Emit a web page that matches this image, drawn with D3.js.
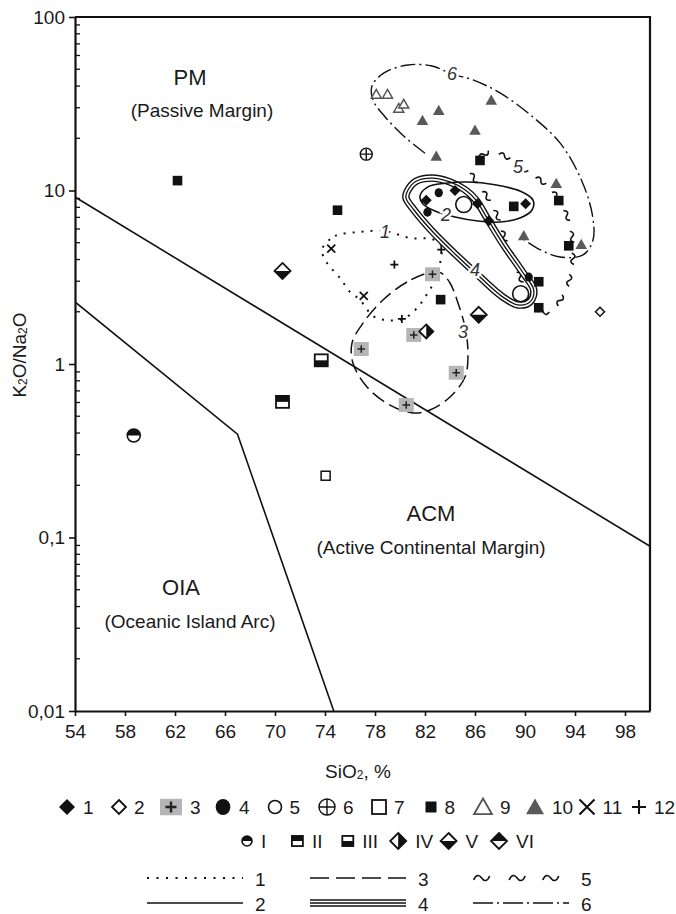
<!DOCTYPE html>
<html>
<head>
<meta charset="utf-8">
<script src="https://cdn.jsdelivr.net/npm/d3@7"></script>
<style>
  body { margin: 0; background: #fff; }
  svg text { font-family: "Liberation Sans", Arial, sans-serif; fill: #1a1a1a; }
</style>
</head>
<body>
<div id="chart"></div>
<script>
// ---- data: SiO2 (%) , K2O/Na2O ----
const xTicks = [54, 58, 62, 66, 70, 74, 78, 82, 86, 90, 94, 98];
const yTicks = [0.01, 0.1, 1, 10, 100];
const yTickLabels = ["0,01", "0,1", "1", "10", "100"];

// field boundaries
const lineAcm = [[54, 9.17], [100, 0.089]];
const lineOia = [[54, 2.28], [67.0, 0.394], [74.7, 0.01]];

// samples by legend symbol
const sym1 = [[84.4, 10.0], [82.1, 8.8], [86.2, 8.4], [90.05, 8.4], [87.1, 6.7]];
const sym2 = [[96.0, 2.0]];
const sym3 = [[82.6, 3.29], [81.1, 1.47], [76.9, 1.22], [84.5, 0.89], [80.5, 0.58]];
const sym4 = [[83.1, 9.7], [82.2, 7.5], [90.3, 3.17]];
const sym5 = [[85.1, 8.3], [89.65, 2.54]];
const sym6 = [[77.3, 16.2]];
const sym7 = [[74.05, 0.227]];
const sym8 = [[62.2, 11.4], [75.0, 7.7], [86.4, 14.9], [89.1, 8.1], [92.7, 8.75], [93.5, 4.8], [83.25, 2.35], [91.1, 2.98], [91.1, 2.11]];
const sym9 = [[78.1, 35.9], [79.0, 35.9], [79.9, 29.8], [80.3, 31.5]];
const sym10 = [[83.1, 29.0], [81.8, 25.4], [87.3, 33.2], [86.0, 22.3], [82.9, 15.8], [92.5, 11.0], [89.9, 5.5], [94.5, 4.9]];
const sym11 = [[74.5, 4.62], [77.1, 2.47]];
const sym12 = [[83.3, 4.56], [79.55, 3.74], [80.15, 1.82]];
const symI = [[58.7, 0.387]];
const symII = [[70.6, 0.605]];
const symIII = [[73.7, 1.05]];
const symIV = [[82.1, 1.54]];
const symV = [[70.6, 3.44], [86.3, 1.92]];

// outlined fields
const field1 = [[73.84, 4.72], [74.8, 5.47], [76.8, 5.77], [78.8, 5.84], [80.8, 5.32], [82.56, 5.25], [83.28, 4.85], [83.28, 4.08], [82.8, 3.05], [82.16, 2.53], [81.36, 2.10], [80.24, 1.82], [78.96, 1.79], [77.84, 1.89], [76.8, 2.34], [76.0, 2.60], [75.2, 3.13], [74.16, 3.82], [73.76, 4.42]];
const field2 = [[81.6, 9.30], [82.24, 10.5], [83.6, 11.0], [85.44, 11.2], [87.6, 10.8], [89.6, 9.93], [90.64, 8.81], [90.56, 7.72], [89.6, 6.94], [88.0, 6.58], [86.24, 6.67], [84.4, 7.04], [82.8, 7.62], [81.84, 8.36]];
const field3 = [[82.56, 3.39], [80.56, 2.97], [78.64, 2.34], [77.04, 1.72], [76.16, 1.32], [76.24, 1.01], [77.36, 0.737], [79.2, 0.580], [81.04, 0.522], [82.4, 0.543], [84.0, 0.645], [85.2, 0.842], [85.44, 1.16], [85.2, 1.63], [84.64, 2.25], [84.0, 2.93], [83.28, 3.35]];
const field4 = [[80.56, 9.80], [81.28, 11.3], [82.56, 11.8], [84.0, 11.2], [85.2, 10.1], [86.08, 8.81], [86.96, 6.94], [88.3, 4.85], [89.8, 3.39], [90.7, 2.67], [90.4, 2.28], [89.44, 2.19], [88.24, 2.43], [86.4, 3.17], [84.4, 4.31], [82.56, 5.84], [81.12, 7.72], [80.48, 9.05]];
const field5 = [[85.76, 12.8], [86.32, 15.4], [87.44, 16.7], [88.64, 15.4], [89.76, 13.5], [91.2, 11.5], [92.64, 9.05], [93.52, 6.58], [93.84, 4.66], [93.68, 3.35], [93.04, 2.47], [91.84, 1.99], [90.64, 2.16], [89.76, 2.97], [89.04, 4.08], [88.4, 5.32], [87.68, 7.42], [86.72, 9.80], [86.0, 11.5]];
const field6 = [[82.0, 16.4], [80.4, 20.3], [78.88, 26.2], [77.84, 33.2], [77.76, 40.0], [78.72, 47.6], [80.64, 52.9], [82.56, 52.2], [84.16, 46.9], [85.84, 43.4], [88.0, 36.5], [90.64, 26.5], [92.8, 18.8], [94.4, 12.0], [95.36, 7.42], [95.44, 5.18], [94.64, 4.25], [92.8, 4.14], [90.96, 4.66], [89.76, 5.32]];

const fieldNames = ["1", "2", "3", "4", "5", "6"];
const fieldLabelAt = [[78.8, 5.77], [83.68, 7.23], [85.04, 1.53], [86.0, 3.48], [89.44, 13.7], [84.16, 46.9]];

const regionNames = ["PM", "ACM", "OIA"];
const regionFull = ["(Passive Margin)", "(Active Continental Margin)", "(Oceanic Island Arc)"];
const regionAt = [[63.2, 45.1], [82.48, 0.1366], [62.48, 0.0512]];
const regionFullAt = [[64.16, 29.1], [82.48, 0.087], [63.2, 0.0326]];

const symbolKeys = ["1", "2", "3", "4", "5", "6", "7", "8", "9", "10", "11", "12"];
const sourceKeys = ["I", "II", "III", "IV", "V", "VI"];

// ---- sizes ----
const plotSize = { "1": 5.5, "2": 4.5, "3": 7.5, "4": 4.5, "5": 8, "6": 6, "7": 4.5, "8": 4.8, "9": 5, "10": 5.8, "11": 4, "12": 4, "I": 6.5, "II": 6.5, "III": 6.5, "IV": 7, "V": 8, "VI": 8 };
const legendSize = { "1": 8, "2": 7, "3": 11, "4": 8, "5": 6.5, "6": 8, "7": 7, "8": 5.5, "9": 9, "10": 9, "11": 7.5, "12": 7, "I": 5, "II": 5.5, "III": 5.5, "IV": 8, "V": 8, "VI": 8 };

const samples = [
  ["1", sym1], ["2", sym2], ["3", sym3], ["4", sym4], ["5", sym5], ["6", sym6],
  ["7", sym7], ["8", sym8], ["9", sym9], ["10", sym10], ["11", sym11], ["12", sym12],
  ["I", symI], ["II", symII], ["III", symIII], ["IV", symIV], ["V", symV]
];

const W = 676, H = 914;
const ink = "#111";

const svg = d3.select("#chart").append("svg")
  .attr("width", W).attr("height", H)
  .attr("viewBox", [0, 0, W, H]);

const x = d3.scaleLinear().domain([54, 100]).range([75, 650]);
const y = d3.scaleLog().domain([0.01, 100]).range([711, 17]);

svg.append("clipPath").attr("id", "plotClip")
  .append("rect").attr("x", 75).attr("y", 17).attr("width", 575).attr("height", 694);

const plot = svg.append("g").attr("clip-path", "url(#plotClip)");

const openLine = d3.line().x(d => x(d[0])).y(d => y(d[1]));
const smoothOpen = d3.line().x(d => x(d[0])).y(d => y(d[1])).curve(d3.curveCatmullRom.alpha(0.5));
const smoothClosed = d3.line().x(d => x(d[0])).y(d => y(d[1])).curve(d3.curveCatmullRomClosed.alpha(0.5));

const tilde = "M-5,1.3 C-3.6,-2.3 -1.6,-2.3 0,0 S3.6,2.3 5,-1.3";

// field 6: dash-dot
plot.append("path").attr("d", smoothOpen(field6))
  .attr("fill", "none").attr("stroke", ink).attr("stroke-width", 1.4)
  .attr("stroke-dasharray", "15 4 2 4");

// field 5: tilde marks along the outline
const guide5 = plot.append("path").attr("d", smoothClosed(field5))
  .attr("fill", "none").attr("stroke", "none");
const len5 = guide5.node().getTotalLength();
for (let l = 6; l < len5 - 8; l += 22) {
  const p = guide5.node().getPointAtLength(l);
  const q = guide5.node().getPointAtLength(l + 1);
  const a = Math.atan2(q.y - p.y, q.x - p.x) * 180 / Math.PI;
  plot.append("path").attr("d", tilde)
    .attr("transform", `translate(${p.x},${p.y}) rotate(${a}) scale(1.15)`)
    .attr("fill", "none").attr("stroke", ink).attr("stroke-width", 1.4);
}

// field 1: dotted
plot.append("path").attr("d", smoothClosed(field1))
  .attr("fill", "none").attr("stroke", ink).attr("stroke-width", 2)
  .attr("stroke-dasharray", "2 7");

// field 3: dashed
plot.append("path").attr("d", smoothClosed(field3))
  .attr("fill", "none").attr("stroke", ink).attr("stroke-width", 1.5)
  .attr("stroke-dasharray", "14 6");

// field 4: triple line
function tripleLine(g, d) {
  g.append("path").attr("d", d).attr("fill", "none").attr("stroke", ink).attr("stroke-width", 7.5);
  g.append("path").attr("d", d).attr("fill", "none").attr("stroke", "#fff").attr("stroke-width", 4.7);
  g.append("path").attr("d", d).attr("fill", "none").attr("stroke", ink).attr("stroke-width", 1.3);
}
tripleLine(plot, smoothClosed(field4));

// field 2: solid
plot.append("path").attr("d", smoothClosed(field2))
  .attr("fill", "none").attr("stroke", ink).attr("stroke-width", 1.6);

// boundaries
plot.append("path").attr("d", openLine(lineAcm))
  .attr("fill", "none").attr("stroke", ink).attr("stroke-width", 1.6);
plot.append("path").attr("d", openLine(lineOia))
  .attr("fill", "none").attr("stroke", ink).attr("stroke-width", 1.6);

// field numbers
plot.selectAll(".fieldLabel").data(fieldNames).join("text")
  .attr("class", "fieldLabel")
  .attr("x", (d, i) => x(fieldLabelAt[i][0]))
  .attr("y", (d, i) => y(fieldLabelAt[i][1]))
  .attr("text-anchor", "middle").attr("dominant-baseline", "central")
  .attr("font-size", 18).attr("font-style", "italic")
  .style("fill", "#333")
  .attr("stroke", "#fff").attr("stroke-width", 5).attr("paint-order", "stroke")
  .text(d => d);

// ---- markers ----
const diamond = s => `M0,${-s}L${s},0L0,${s}L${-s},0Z`;

function marker(g, type, s) {
  const sw = s > 6 ? 1.8 : 1.5;
  switch (type) {
    case "1":
      g.append("path").attr("d", diamond(s)).attr("fill", ink); break;
    case "2":
      g.append("path").attr("d", diamond(s)).attr("fill", "#fff").attr("stroke", ink).attr("stroke-width", sw); break;
    case "3": {
      const h = s * (s > 9 ? 0.75 : 0.93);
      g.append("rect").attr("x", -s).attr("y", -h).attr("width", 2 * s).attr("height", 2 * h).attr("fill", "#b5b5b5");
      const a = s * 0.5;
      g.append("path").attr("d", `M${-a},0H${a}M0,${-a}V${a}`).attr("stroke", "#222").attr("stroke-width", s > 9 ? 2.4 : 1.5);
      break;
    }
    case "4":
      g.append("ellipse").attr("rx", s * 0.92).attr("ry", s).attr("fill", ink); break;
    case "5":
      g.append("circle").attr("r", s).attr("fill", "#fff").attr("stroke", ink).attr("stroke-width", 1.6); break;
    case "6":
      g.append("circle").attr("r", s).attr("fill", "#fff").attr("stroke", ink).attr("stroke-width", 1.4);
      g.append("path").attr("d", `M${-s},0H${s}M0,${-s}V${s}`).attr("stroke", ink).attr("stroke-width", 1.4);
      break;
    case "7":
      g.append("rect").attr("x", -s).attr("y", -s).attr("width", 2 * s).attr("height", 2 * s)
        .attr("fill", "#fff").attr("stroke", ink).attr("stroke-width", sw);
      break;
    case "8":
      g.append("rect").attr("x", -s).attr("y", -s).attr("width", 2 * s).attr("height", 2 * s).attr("fill", ink); break;
    case "9":
      g.append("path").attr("d", `M0,${-s * 0.95}L${s},${s * 0.8}L${-s},${s * 0.8}Z`)
        .attr("fill", "#fff").attr("stroke", "#555").attr("stroke-width", sw);
      break;
    case "10":
      g.append("path").attr("d", `M0,${-s * 0.95}L${s},${s * 0.8}L${-s},${s * 0.8}Z`).attr("fill", "#595959"); break;
    case "11":
      g.append("path").attr("d", `M${-s},${-s}L${s},${s}M${-s},${s}L${s},${-s}`).attr("stroke", ink).attr("stroke-width", sw + 0.3); break;
    case "12":
      g.append("path").attr("d", `M${-s},0H${s}M0,${-s}V${s}`).attr("stroke", ink).attr("stroke-width", sw + 0.3); break;
    case "I":
      g.append("circle").attr("r", s).attr("fill", "#fff");
      g.append("path").attr("d", `M${-s},0A${s},${s} 0 0 1 ${s},0Z`).attr("fill", ink);
      g.append("circle").attr("r", s).attr("fill", "none").attr("stroke", ink).attr("stroke-width", 1.6);
      break;
    case "II":
    case "III": {
      const h = s * 0.92;
      g.append("rect").attr("x", -s).attr("y", -h).attr("width", 2 * s).attr("height", 2 * h).attr("fill", "#fff");
      g.append("rect").attr("x", -s).attr("y", type === "II" ? -h : 0).attr("width", 2 * s).attr("height", h).attr("fill", ink);
      g.append("rect").attr("x", -s).attr("y", -h).attr("width", 2 * s).attr("height", 2 * h)
        .attr("fill", "none").attr("stroke", ink).attr("stroke-width", 1.8);
      break;
    }
    case "IV":
    case "V":
    case "VI": {
      const half = type === "IV" ? `M0,${-s}L${s},0L0,${s}Z`
        : type === "V" ? `M${-s},0L${s},0L0,${s}Z`
        : `M${-s},0L${s},0L0,${-s}Z`;
      g.append("path").attr("d", diamond(s)).attr("fill", "#fff");
      g.append("path").attr("d", half).attr("fill", ink);
      g.append("path").attr("d", diamond(s)).attr("fill", "none").attr("stroke", ink).attr("stroke-width", 1.8);
      break;
    }
  }
}

const markLayer = svg.append("g");
samples.forEach(([type, pts]) => {
  pts.forEach(p => {
    const g = markLayer.append("g").attr("transform", `translate(${x(p[0])},${y(p[1])})`);
    marker(g, type, plotSize[type]);
  });
});

// region names
svg.selectAll(".region").data(regionNames).join("text")
  .attr("class", "region")
  .attr("x", (d, i) => x(regionAt[i][0])).attr("y", (d, i) => y(regionAt[i][1]))
  .attr("text-anchor", "middle").attr("dominant-baseline", "central")
  .attr("font-size", 22).text(d => d);
svg.selectAll(".regionFull").data(regionFull).join("text")
  .attr("class", "regionFull")
  .attr("x", (d, i) => x(regionFullAt[i][0])).attr("y", (d, i) => y(regionFullAt[i][1]))
  .attr("text-anchor", "middle").attr("dominant-baseline", "central")
  .attr("font-size", 19).text(d => d);

// ---- axes ----
const xAxis = svg.append("g").attr("transform", "translate(0,711)")
  .call(d3.axisBottom(x).tickValues(xTicks).tickSize(5).tickSizeOuter(0).tickPadding(9).tickFormat(d3.format("d")));
const yAxis = svg.append("g").attr("transform", "translate(75,0)")
  .call(d3.axisLeft(y).tickValues(yTicks).tickSize(6).tickSizeOuter(0).tickPadding(4).tickFormat((d, i) => yTickLabels[i]));

[xAxis, yAxis].forEach(a => {
  a.select(".domain").attr("stroke", ink).attr("stroke-width", 2.2);
  a.selectAll(".tick line").attr("stroke", ink).attr("stroke-width", 1.6);
  a.selectAll(".tick text").attr("font-size", 19).attr("font-family", null).style("fill", "#1a1a1a");
});

// minor log ticks, pointing inward
const minorTicks = y.ticks().filter(v => !yTicks.some(t => Math.abs(t - v) < t * 1e-6));
svg.append("g").selectAll("line").data(minorTicks).join("line")
  .attr("x1", 75).attr("x2", 80)
  .attr("y1", d => y(d)).attr("y2", d => y(d))
  .attr("stroke", ink).attr("stroke-width", 1.3);

// frame
svg.append("path").attr("d", `M75,17H650V711`)
  .attr("fill", "none").attr("stroke", ink).attr("stroke-width", 2.2);

// axis titles
const xt = svg.append("text").attr("x", 358).attr("y", 771)
  .attr("text-anchor", "middle").attr("dominant-baseline", "central").attr("font-size", 19);
xt.append("tspan").text("SiO");
xt.append("tspan").attr("font-size", 12).attr("dy", 4).text("2");
xt.append("tspan").attr("dy", -4).text(", %");

const yt = svg.append("text").attr("transform", "translate(19,355) rotate(-90)")
  .attr("text-anchor", "middle").attr("dominant-baseline", "central").attr("font-size", 19);
yt.append("tspan").text("K");
yt.append("tspan").attr("font-size", 12).attr("dy", 4).text("2");
yt.append("tspan").attr("dy", -4).text("O/Na");
yt.append("tspan").attr("font-size", 12).attr("dy", 4).text("2");
yt.append("tspan").attr("dy", -4).text("O");

// ---- legend ----
const legend = svg.append("g");

const row1 = d3.scalePoint().domain(symbolKeys).range([67, 639]);
symbolKeys.forEach(k => {
  const g = legend.append("g").attr("transform", `translate(${row1(k)},807)`);
  marker(g, k, legendSize[k]);
  legend.append("text").attr("x", row1(k) + legendSize[k] + 8).attr("y", 807)
    .attr("dominant-baseline", "central").attr("font-size", 19).text(k);
});

const row2 = d3.scalePoint().domain(sourceKeys).range([247, 499]);
sourceKeys.forEach(k => {
  const g = legend.append("g").attr("transform", `translate(${row2(k)},841)`);
  marker(g, k, legendSize[k]);
  legend.append("text").attr("x", row2(k) + legendSize[k] + 9).attr("y", 841)
    .attr("dominant-baseline", "central").attr("font-size", 19).text(k);
});

// line styles legend: three columns, two rows
const col = d3.scalePoint().domain(["a", "b", "c"]).range([147, 473]);
const rowY = d3.scalePoint().domain(["top", "bottom"]).range([878, 903]);
const lineKeys = [["1", "a", "top"], ["2", "a", "bottom"], ["3", "b", "top"], ["4", "b", "bottom"], ["5", "c", "top"], ["6", "c", "bottom"]];
const segLen = 96;
lineKeys.forEach(([k, c, r]) => {
  const x0 = col(c), yy = rowY(r);
  const seg = `M${x0},${yy}H${x0 + segLen}`;
  if (k === "1") legend.append("path").attr("d", seg).attr("stroke", ink).attr("stroke-width", 2).attr("stroke-dasharray", "2 7.5");
  if (k === "2") legend.append("path").attr("d", seg).attr("stroke", ink).attr("stroke-width", 1.7);
  if (k === "3") legend.append("path").attr("d", seg).attr("stroke", ink).attr("stroke-width", 1.7).attr("stroke-dasharray", "19 7");
  if (k === "4") tripleLine(legend, seg);
  if (k === "5") [0.09, 0.46, 0.81].forEach(f => {
    legend.append("path").attr("d", tilde)
      .attr("transform", `translate(${x0 + segLen * f},${yy}) scale(1.6)`)
      .attr("fill", "none").attr("stroke", ink).attr("stroke-width", 1);
  });
  if (k === "6") legend.append("path").attr("d", seg).attr("stroke", ink).attr("stroke-width", 1.6).attr("stroke-dasharray", "20 4 2 4");
  legend.append("text").attr("x", x0 + segLen + 12).attr("y", yy + 1)
    .attr("dominant-baseline", "central").attr("font-size", 19).text(k);
});
</script>
</body>
</html>
